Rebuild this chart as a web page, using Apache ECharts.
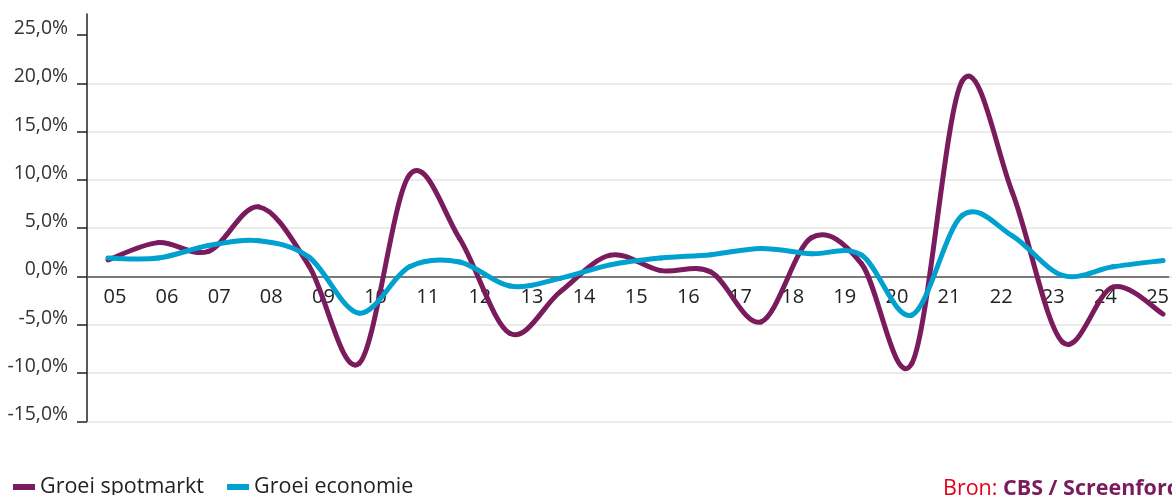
<!DOCTYPE html>
<html>
<head>
<meta charset="utf-8">
<script src="https://cdn.jsdelivr.net/npm/echarts@6/dist/echarts.min.js"></script>
<style>
  html, body { margin: 0; padding: 0; background: #ffffff; }
  #chart { width: 1172px; height: 495px; }
</style>
</head>
<body>
<div id="chart"></div>
<script>
// Yearly growth figures (%), 2004 – 2025
const years = [2004, 2005, 2006, 2007, 2008, 2009, 2010, 2011, 2012, 2013, 2014,
               2015, 2016, 2017, 2018, 2019, 2020, 2021, 2022, 2023, 2024, 2025];
const spotmarkt = [1.7, 3.5, 2.6, 7.2, 1.1, -9.0, 10.5, 3.9, -5.9, -1.6, 2.2,
                   0.6, 0.45, -4.7, 4.0, 1.3, -9.0, 20.2, 8.7, -6.8, -1.1, -3.9];
const economie = [1.9, 1.9, 3.2, 3.7, 2.0, -3.8, 1.0, 1.5, -1.0, -0.2, 1.2,
                  1.9, 2.25, 2.9, 2.35, 2.2, -4.0, 6.3, 4.2, 0.1, 1.0, 1.65];

// Axis labels
const yearTicks = [5, 6, 7, 8, 9, 10, 11, 12, 13, 14, 15, 16, 17, 18, 19, 20, 21, 22, 23, 24, 25];
const pctTicks = [-15, -10, -5, 0, 5, 10, 15, 20, 25];

const seriesNames = ['Groei spotmarkt', 'Groei economie'];
const colors = ['#7a1b5e', '#00a0cf'];
const FONT = '"Open Sans", "Noto Sans", sans-serif';

// Value range of the percentage axis
const Y_MIN = -15;
const Y_MAX = 27.17;

// Plot box (pixels)
const PLOT = { left: 87, right: 0, top: 14, bottom: 73.7 };
const CHART_H = 495;
const plotH = CHART_H - PLOT.top - PLOT.bottom;
// pixel distance from the bottom of the chart to the 0 % line
const zeroFromBottom = PLOT.bottom + plotH * (0 - Y_MIN) / (Y_MAX - Y_MIN);

const chart = echarts.init(document.getElementById('chart'), null, { renderer: 'canvas' });

const toPairs = (vals) => years.map((y, i) => [y, vals[i]]);

// Smoothed line drawn as Catmull-Rom Bezier segments between consecutive years,
// every point placed through the chart's own axes (api.coord).
function splineSeries(name, vals, color) {
  const n = vals.length;
  const clampIdx = (k) => Math.max(0, Math.min(n - 1, k));
  const k = 1 / 6;
  return {
    name: name,
    type: 'custom',
    xAxisIndex: 0,
    yAxisIndex: 0,
    data: toPairs(vals),
    encode: { x: 0, y: 1 },
    itemStyle: { color: color },
    clip: false,
    silent: true,
    renderItem: function (params, api) {
      const i = params.dataIndex;
      if (i >= n - 1) return null;
      const P = [i - 1, i, i + 1, i + 2].map((j) => {
        const c = clampIdx(j);
        return api.coord([years[c], vals[c]]);
      });
      return {
        type: 'bezierCurve',
        shape: {
          x1: P[1][0], y1: P[1][1],
          x2: P[2][0], y2: P[2][1],
          cpx1: P[1][0] + (P[2][0] - P[0][0]) * k,
          cpy1: P[1][1] + (P[2][1] - P[0][1]) * k,
          cpx2: P[2][0] - (P[3][0] - P[1][0]) * k,
          cpy2: P[2][1] - (P[3][1] - P[1][1]) * k
        },
        style: { stroke: color, lineWidth: 5, fill: 'none', lineCap: 'round' }
      };
    }
  };
}

chart.setOption({
  animation: false,
  backgroundColor: '#ffffff',
  textStyle: { fontFamily: FONT },
  grid: [
    // main plot
    { left: PLOT.left, right: PLOT.right, top: PLOT.top, bottom: PLOT.bottom, containLabel: false },
    // band whose lower edge is the 0 % line, carrying the year labels
    { left: PLOT.left, right: PLOT.right, top: PLOT.top, bottom: zeroFromBottom, containLabel: false }
  ],
  legend: {
    data: seriesNames,
    left: 13,
    top: 476,
    padding: 0,
    icon: 'rect',
    itemWidth: 22,
    itemHeight: 6,
    itemGap: 23,
    textStyle: { fontSize: 21.5, color: '#222222', fontFamily: FONT, padding: [4, 0, 0, 0] }
  },
  xAxis: [
    {
      // year scale carrying the data
      gridIndex: 0,
      type: 'value',
      min: 2003.582,
      max: 2025.178,
      show: false
    },
    {
      // two-digit year labels along the zero line
      gridIndex: 1,
      type: 'value',
      position: 'bottom',
      min: 4.4646,
      max: 25.2105,
      axisLine: { show: true, onZero: false, lineStyle: { color: '#555555', width: 1.5 } },
      axisTick: { show: false },
      splitLine: { show: false },
      axisLabel: {
        customValues: yearTicks,
        formatter: (v) => String(v).padStart(2, '0'),
        fontSize: 20,
        color: '#222222',
        margin: 11,
        fontFamily: FONT
      }
    }
  ],
  yAxis: [
    {
      gridIndex: 0,
      type: 'value',
      min: Y_MIN,
      max: Y_MAX,
      interval: 5,
      axisLine: { show: true, lineStyle: { color: '#222222', width: 1.5 } },
      axisTick: {
        show: true,
        customValues: pctTicks,
        length: 10,
        inside: false,
        lineStyle: { color: '#222222', width: 1.5 }
      },
      axisLabel: {
        customValues: pctTicks,
        formatter: (v) => v.toFixed(1).replace('.', ',') + '%',
        fontSize: 19.4,
        color: '#333333',
        margin: 19,
        verticalAlign: 'bottom',
        lineHeight: 13,
        fontFamily: FONT
      },
      splitLine: { show: true, showMaxLine: false, lineStyle: { color: '#e4e4e4', width: 1.5 } }
    },
    {
      gridIndex: 1,
      type: 'value',
      min: 0,
      max: Y_MAX,
      show: false
    }
  ],
  series: [
    splineSeries(seriesNames[0], spotmarkt, colors[0]),
    splineSeries(seriesNames[1], economie, colors[1])
  ],
  graphic: [
    {
      type: 'text',
      left: 943,
      top: 477.5,
      style: {
        text: '{a|Bron: }{b|CBS / Screenforce}',
        rich: {
          a: { fill: '#e2001a', fontSize: 21.5, fontFamily: FONT },
          b: { fill: '#7a1b5e', fontSize: 21.5, fontWeight: 'bold', fontFamily: FONT }
        }
      }
    }
  ]
});
</script>
</body>
</html>
